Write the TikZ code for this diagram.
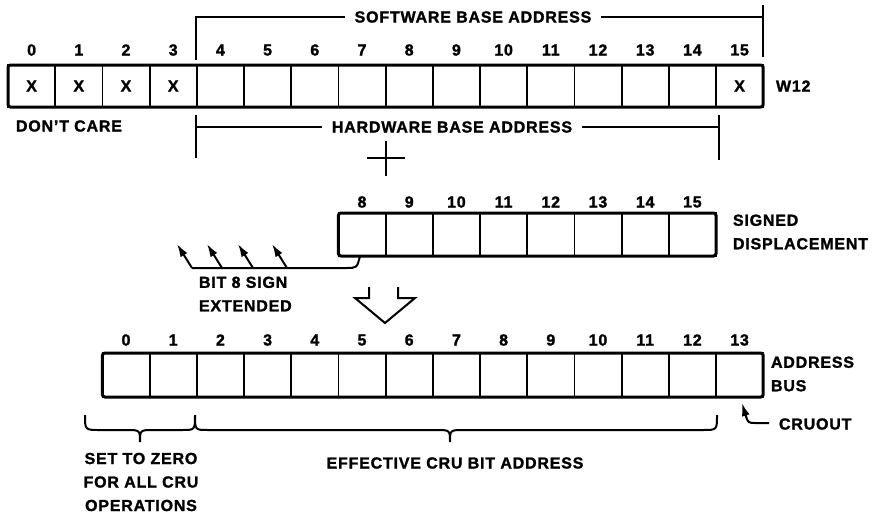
\documentclass[tikz,border=0pt]{standalone}
\usepackage{fontspec}
\setmainfont{Liberation Sans}[LetterSpace=5, BoldFeatures={FakeBold=1.5}]
\usetikzlibrary{arrows.meta}

\tikzset{
  cell/.style={draw, line width=1.8pt, minimum width=47.2pt, inner sep=0pt, outer sep=0pt},
  txt/.style={font=\bfseries\fontsize{16}{23.5}\selectfont, inner sep=0pt},
  frame/.style={line width=3pt, rounded corners=2.5pt},
  tip/.style={-{Latex[length=13pt,width=8pt]}},
}

\begin{document}
\begin{tikzpicture}[x=1pt, y=-1pt, line width=2pt]
\useasboundingbox (0,0) rectangle (879,515);

% register W12
\foreach \i in {0,...,15} {
  \node[cell, minimum height=42pt] (w\i) at ({31.6+47.2*\i},86) {};
  \node[txt] (wn\i) at ({31.6+47.2*\i},50) {\i};
}
\draw[frame] (w0.north west) rectangle (w15.south east);
\foreach \i in {0,1,2,3,15} \node[txt] (wx\i) at (w\i) {X};
\node[txt, anchor=west] (w12) at (775,86) {W12};
\node[txt, anchor=west] (dc) at (15,126) {DON'T CARE};

\node[txt, inner xsep=9pt] (sw) at (473,17) {SOFTWARE BASE ADDRESS};
\draw (196,60) -- (196,17) -- (sw.west);
\draw (sw.east) -- (763,17);
\draw (763,5) -- (763,57);

\node[txt, inner xsep=9pt] (hw) at (452,127) {HARDWARE BASE ADDRESS};
\draw (196,115) -- (196,158);
\draw (196,127) -- (hw.west);
\draw (hw.east) -- (719,127);
\draw (719,115) -- (719,160);

\draw (386,141) -- (386,176);
\draw (367,158) -- (405,158);

% signed displacement
\foreach \i in {8,...,15} {
  \node[cell, minimum height=43pt] (d\i) at ({31.6+47.2*(\i-1)},234.5) {};
  \node[txt] (dn\i) at ({31.6+47.2*(\i-1)},202) {\i};
}
\draw[frame] (d8.north west) rectangle (d15.south east);
\node[txt, anchor=west, align=left] (sd) at (732,232) {SIGNED\\DISPLACEMENT};

\draw (360,256) .. controls (357,268) .. (346,268) -- (192,268);
\foreach \x in {192,222,253,287} {
  \coordinate (s\x) at (\x,268);
  \draw[tip] (s\x) -- ++(-15,-24);
}
\node[txt, anchor=west, align=left] (bs) at (198,294) {BIT 8 SIGN\\EXTENDED};

\draw[line join=miter] (369,287) -- (369,298) -- (355,298) -- (385,323)
  -- (415,298) -- (398,298) -- (398,287);

% address bus
\foreach \i in {0,...,13} {
  \node[cell, minimum height=44pt] (a\i) at ({31.6+47.2*(\i+2)},375) {};
  \node[txt] (an\i) at ({31.6+47.2*(\i+2)},340) {\i};
}
\draw[frame] (a0.north west) rectangle (a13.south east);
\node[txt, anchor=west, align=left] (ab) at (770,374) {ADDRESS\\BUS};

\draw (85,415) .. controls (85,430) .. (100,430) -- (126,430)
  .. controls (140,430) .. (140,442) .. controls (140,430) .. (154,430)
  -- (182,430) .. controls (195,430) .. (195,415);
\draw (195,415) .. controls (195,430) .. (208,430) -- (436,430)
  .. controls (450,430) .. (450,442) .. controls (450,430) .. (464,430)
  -- (703,430) .. controls (717,430) .. (717,415);

\node[txt, align=center] (sz) at (141,482) {SET TO ZERO\\FOR ALL CRU\\OPERATIONS};
\node[txt] (ec) at (455,463) {EFFECTIVE CRU BIT ADDRESS};

\node[txt, anchor=west] (co) at (778,424) {CRUOUT};
\draw[tip] (769,423) -- (756,423) .. controls (748,423) .. (742,403);
\end{tikzpicture}
\end{document}
